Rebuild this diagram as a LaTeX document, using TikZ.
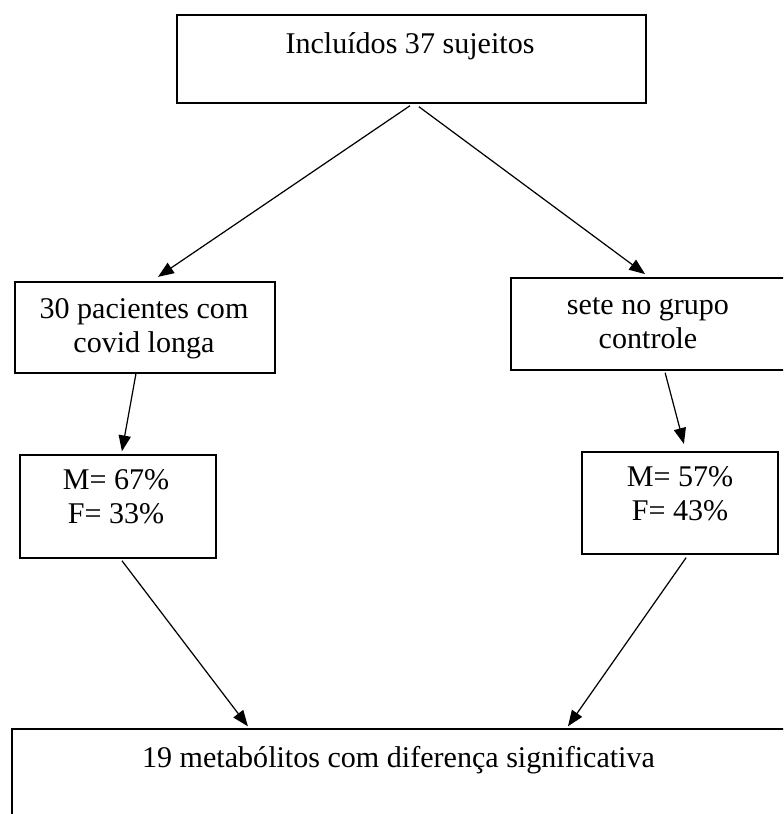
\documentclass[tikz,border=0pt]{standalone}
\usepackage{fontspec}
\setmainfont{Liberation Serif}
\usepackage{tikz}
\usetikzlibrary{arrows.meta}
\usetikzlibrary{positioning}

\tikzset{
	box/.style={draw, line width=0.6pt, inner sep=0pt},
	txt/.style={inner sep=0pt, align=center, anchor=base, font=\fontsize{12.3pt}{13.7pt}\selectfont},
	arr/.style={line width=0.5pt, -{Triangle[length=6.5pt,width=5pt]}}
}

\begin{document}
\begin{tikzpicture}[x=0.409pt, y=-0.409pt]
		\useasboundingbox (0,0) rectangle (783,814);
		\clip (0,0) rectangle (783,814);

		% boxes
		\node[box, minimum width=469*0.409pt, minimum height=88*0.409pt] (top) at (411.5,59) {};
		\node[box, minimum width=260*0.409pt, minimum height=91*0.409pt] (covid) at (145,327.5) {};
		\node[box, minimum width=274*0.409pt, minimum height=92*0.409pt] (ctrl) at (648,324) {};
		\node[box, minimum width=196*0.409pt, minimum height=103*0.409pt] (mleft) at (118,506.5) {};
		\node[box, minimum width=196*0.409pt, minimum height=102*0.409pt] (mright) at (680,503) {};
		\node[box, minimum width=773*0.409pt, minimum height=120*0.409pt] (result) at (398.5,789) {};

		% texts (base = last line)
		\node[txt] (toptxt) at (410,53) {Incluídos 37 sujeitos};
		\node[txt] (covidtxt) at (144,352) {30 pacientes com\\covid longa};
		\node[txt] (ctrltxt) at (648,348) {sete no grupo\\controle};
		\node[txt] (mlefttxt) at (116,523) {M= 67\%\\F= 33\%};
		\node[txt] (mrighttxt) at (680,520) {M= 57\%\\F= 43\%};
		\node[txt] (resulttxt) at (398.5,767) {19 metabólitos com diferença significativa};

		\draw[arr] ([xshift=-0.6pt,yshift=-0.8pt]top.south) -- ([xshift=5.3pt,yshift=1.8pt]covid.north);
		\draw[arr] ([xshift=3pt,yshift=-1.2pt]top.south) -- ([xshift=-1.2pt,yshift=1.3pt]ctrl.north);
		\draw[arr] ([xshift=-3.7pt]covid.south) -- ([xshift=1.6pt,yshift=1.2pt]mleft.north);
		\draw[arr] ([xshift=7pt,yshift=-0.8pt]ctrl.south) -- ([xshift=1.6pt,yshift=3pt]mright.north);
		\draw[arr] ([xshift=1.6pt,yshift=-0.8pt]mleft.south) -- ([xshift=-61.6pt,yshift=0.8pt]result.north);
		\draw[arr] ([xshift=2.5pt,yshift=-1.2pt]mright.south) -- ([xshift=69.3pt,yshift=0.8pt]result.north);
	\end{tikzpicture}
\end{document}
